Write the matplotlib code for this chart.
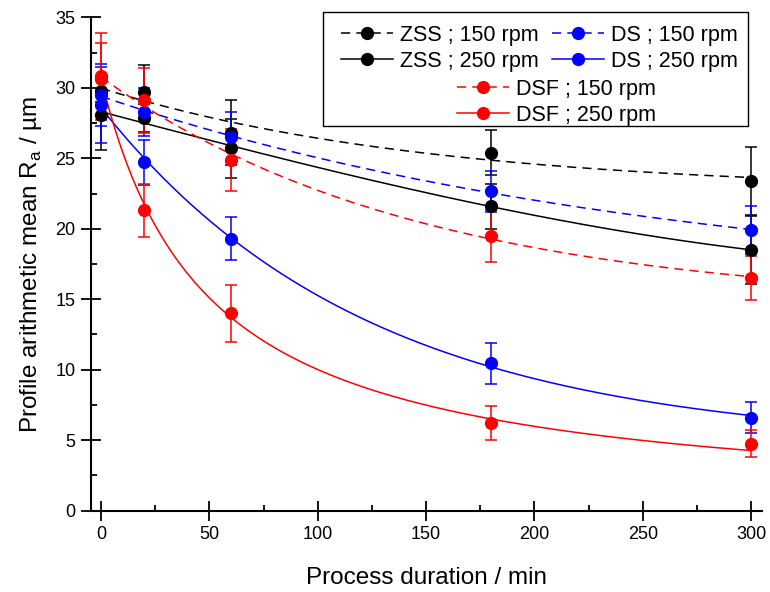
import numpy as np
import matplotlib
matplotlib.use("Agg")
from matplotlib import pyplot as plt
from matplotlib.patches import Rectangle
from matplotlib.ticker import MultipleLocator

plt.rcParams["font.family"] = ["Liberation Sans", "DejaVu Sans"]
plt.rcParams["mathtext.fontset"] = "custom"
plt.rcParams["mathtext.rm"] = "Liberation Sans"

# process duration in min
DURATION = np.array([0, 20, 60, 180, 300])

# mean Ra in um, with error bars
ZSS_150 = [29.8, 29.7, 26.8, 25.4, 23.4]
ZSS_150_ERR = [0.8, 1.9, 2.3, 1.6, 2.4]
ZSS_250 = [28.1, 27.85, 25.7, 21.6, 18.5]
ZSS_250_ERR = [2.5, 1.0, 2.1, 1.6, 2.4]
DS_150 = [29.5, 28.3, 26.5, 22.65, 19.9]
DS_150_ERR = [2.2, 1.7, 1.8, 1.45, 1.7]
DS_250 = [28.8, 24.7, 19.3, 10.45, 6.6]
DS_250_ERR = [2.7, 1.6, 1.5, 1.45, 1.1]
DSF_150 = [30.6, 29.1, 24.9, 19.5, 16.5]
DSF_150_ERR = [2.6, 2.3, 2.2, 1.85, 1.55]
DSF_250 = [30.8, 21.3, 14.0, 6.2, 4.75]
DSF_250_ERR = [3.1, 1.9, 2.0, 1.2, 0.95]

LABELS = ["ZSS ; 150 rpm", "ZSS ; 250 rpm", "DS ; 150 rpm",
          "DS ; 250 rpm", "DSF ; 150 rpm", "DSF ; 250 rpm"]


def exp_fit(x, y):
    # y = y0 + a*exp(-x/t), t by grid search, y0 and a by least squares
    y = np.asarray(y, dtype=float)
    best = None
    for t in np.linspace(5, 3000, 3000):
        basis = np.column_stack([np.ones_like(x, dtype=float), np.exp(-x / t)])
        coef = np.linalg.lstsq(basis, y, rcond=None)[0]
        err = np.sum((basis @ coef - y) ** 2)
        if best is None or err < best[0]:
            best = (err, t, coef)
    _, t, coef = best
    return lambda xx: coef[0] + coef[1] * np.exp(-xx / t)


def hyp_fit(x, y):
    # y = a / (1 + b*x)
    y = np.asarray(y, dtype=float)
    best = None
    for b in np.linspace(0.001, 0.1, 2000):
        g = 1.0 / (1 + b * x)
        a = np.sum(g * y) / np.sum(g * g)
        err = np.sum((a * g - y) ** 2)
        if best is None or err < best[0]:
            best = (err, a, b)
    _, a, b = best
    return lambda xx: a / (1 + b * xx)


def poly_fit(x, y, deg=3):
    p = np.polyfit(x, y, deg)
    return lambda xx: np.polyval(p, xx)


series = [
    (ZSS_150, ZSS_150_ERR, "black", "--", exp_fit),
    (ZSS_250, ZSS_250_ERR, "black", "-", poly_fit),
    (DS_150, DS_150_ERR, "blue", "--", exp_fit),
    (DS_250, DS_250_ERR, "blue", "-", exp_fit),
    (DSF_150, DSF_150_ERR, "red", "--", exp_fit),
    (DSF_250, DSF_250_ERR, "red", "-", hyp_fit),
]

fig = plt.figure(figsize=(7.7, 5.92), dpi=100)
ax = fig.add_axes([0.1178, 0.1373, 0.8718, 0.8335])

xs = np.linspace(0, 300, 400)
handles = []
for vals, err, color, ls, fit in series:
    dash = (0, (6, 4)) if ls == "--" else "-"
    f = fit(DURATION, vals)
    ax.plot(xs, f(xs), color=color, lw=1.1, linestyle=dash, zorder=2)
    ax.errorbar(DURATION, vals, yerr=err, fmt="none", ecolor=color,
                elinewidth=1.1, capsize=4, capthick=1.1, zorder=3)
    ax.plot(DURATION, vals, "o", color=color, markersize=8.5, zorder=4)
    h, = ax.plot([], [], color=color, lw=1.1, linestyle=dash,
                 marker="o", markersize=8.5)
    handles.append(h)

ax.set_xlim(-4.8, 305)
ax.set_ylim(0, 35)
ax.spines["top"].set_visible(False)
ax.spines["right"].set_visible(False)
for s in ["left", "bottom"]:
    ax.spines[s].set_linewidth(1.5)
ax.xaxis.set_major_locator(MultipleLocator(50))
ax.xaxis.set_minor_locator(MultipleLocator(25))
ax.yaxis.set_major_locator(MultipleLocator(5))
ax.yaxis.set_minor_locator(MultipleLocator(2.5))
ax.tick_params(which="major", direction="inout", length=14, width=1.3,
               labelsize=13, pad=4)
ax.tick_params(which="minor", direction="in", length=4, width=1.3)

ax.set_xlabel("Process duration / min", fontsize=17.5, labelpad=17)
ax.set_ylabel(r"Profile arithmetic mean R$_\mathregular{a}$ / µm",
              fontsize=17.5, labelpad=8)

# legend frame laid over the plot
W, H = 770, 592
frame = Rectangle((323 / W, 1 - 126 / H), (748 - 323) / W, (126 - 12) / H,
                  transform=fig.transFigure, facecolor="white",
                  edgecolor="black", lw=1.0, zorder=10, clip_on=False)
ax.add_patch(frame)

leg_kw = dict(frameon=False, fontsize=15.5, handlelength=2.4,
              handletextpad=0.35, borderpad=0, borderaxespad=0,
              labelspacing=0.22, bbox_transform=fig.transFigure)
leg1 = ax.legend([handles[0], handles[1], handles[2], handles[3]],
                 LABELS[:4], ncol=2, loc="upper left", columnspacing=0.6,
                 bbox_to_anchor=(341 / W, 1 - 25 / H), **leg_kw)
leg1.set_zorder(11)
ax.add_artist(leg1)
leg2 = ax.legend(handles[4:], LABELS[4:], ncol=1, loc="upper left",
                 bbox_to_anchor=(457 / W, 1 - 79 / H), **leg_kw)
leg2.set_zorder(11)

fig.savefig("out.png", dpi=100)
